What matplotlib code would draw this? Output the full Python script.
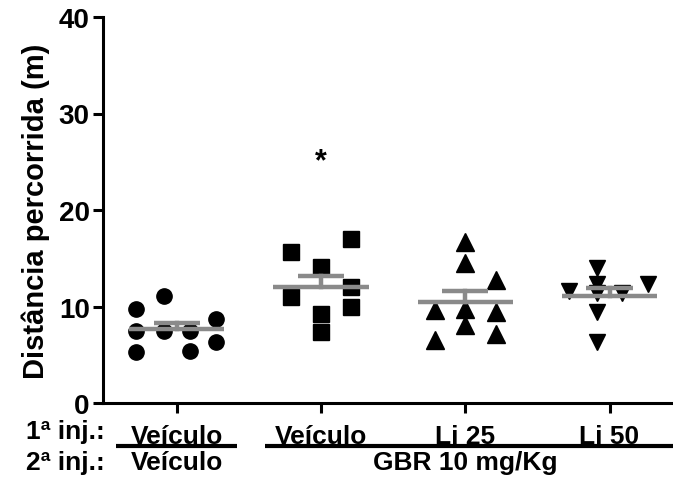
import numpy as np
import matplotlib
matplotlib.use('Agg')
import matplotlib.pyplot as plt
from matplotlib.transforms import blended_transform_factory

plt.rcParams['font.family'] = ['Liberation Sans', 'DejaVu Sans']
plt.rcParams['font.weight'] = 'bold'

# distance travelled (m) per animal
veh_veh = [9.7, 11.1, 7.5, 7.5, 7.5, 8.7, 6.3, 5.3, 5.4]
veh_gbr = [15.6, 17.0, 14.1, 12.0, 11.0, 9.95, 9.2, 7.4]
li25_gbr = [16.7, 14.5, 12.7, 9.6, 9.7, 9.4, 8.1, 7.2, 6.5]
li50_gbr = [13.95, 11.65, 12.35, 11.35, 11.35, 12.35, 9.45, 6.35]

# horizontal spread of points inside each group
offsets_1 = [-0.28, -0.09, -0.28, -0.09, 0.09, 0.27, 0.27, -0.28, 0.09]
offsets_2 = [-0.21, 0.21, 0.0, 0.21, -0.21, 0.21, 0.0, 0.0]
offsets_3 = [0.0, 0.0, 0.21, -0.21, 0.0, 0.21, 0.0, 0.21, -0.21]
offsets_4 = [-0.09, -0.28, -0.09, -0.09, 0.09, 0.27, -0.09, -0.09]

groups = [veh_veh, veh_gbr, li25_gbr, li50_gbr]
offsets = [offsets_1, offsets_2, offsets_3, offsets_4]
markers = ['o', 's', '^', 'v']
sizes = [11, 12, 13, 12]

row1 = ['Veículo', 'Veículo', 'Li 25', 'Li 50']

fig = plt.figure(figsize=(6.73, 4.81), dpi=100)
ax = fig.add_axes([103 / 673, 1 - 404 / 481, 1 - 103 / 673, (404 - 18) / 481])

gray = '#8a8a8a'
for i, (vals, offs) in enumerate(zip(groups, offsets)):
    vals = np.array(vals)
    xs = i + np.array(offs)
    ax.plot(xs, vals, linestyle='none', marker=markers[i], ms=sizes[i],
            color='black', zorder=2, clip_on=False)
    m = vals.mean()
    sem = vals.std(ddof=1) / np.sqrt(len(vals))
    ax.plot([i - 0.33, i + 0.33], [m, m], color=gray, lw=3.2, zorder=3,
            solid_capstyle='butt')
    ax.plot([i, i], [m, m + sem], color=gray, lw=3.2, zorder=3)
    ax.plot([i - 0.16, i + 0.16], [m + sem, m + sem], color=gray, lw=3.2,
            zorder=3, solid_capstyle='butt')

ax.text(1, 25, '*', ha='center', va='center', fontsize=22, fontweight='bold')

ax.set_xlim(-0.51, 3.44)
ax.set_ylim(0, 40)
ax.set_yticks([0, 10, 20, 30, 40])
ax.set_xticks([0, 1, 2, 3])
ax.set_xticklabels([])
ax.spines['top'].set_visible(False)
ax.spines['right'].set_visible(False)
ax.spines['left'].set_linewidth(2.2)
ax.spines['bottom'].set_linewidth(2.2)
ax.tick_params(axis='both', length=7.5, width=2.2, labelsize=20, pad=2)
ax.set_ylabel('Distância percorrida (m)', fontsize=21, fontweight='bold',
              labelpad=6)

# group labels below the axis (x in data units, y in inches from figure bottom)
tr = blended_transform_factory(ax.transData, fig.dpi_scale_trans)
fig.text(105 / 673, 42 / 481, '1ª inj.:', ha='right', va='baseline',
         fontsize=19, fontweight='bold')
fig.text(105 / 673, 11 / 481, '2ª inj.:', ha='right', va='baseline',
         fontsize=19, fontweight='bold')
for i, lab in enumerate(row1):
    ax.text(i, 0.37, lab, transform=tr, ha='center', va='baseline',
            fontsize=19, fontweight='bold')
ax.text(0, 0.11, 'Veículo', transform=tr, ha='center', va='baseline',
        fontsize=19, fontweight='bold')
ax.text(2, 0.11, 'GBR 10 mg/Kg', transform=tr, ha='center', va='baseline',
        fontsize=19, fontweight='bold')
ax.plot([-0.42, 0.42], [0.34, 0.34], transform=tr, color='black', lw=3,
        clip_on=False, solid_capstyle='butt')
ax.plot([0.61, 3.44], [0.34, 0.34], transform=tr, color='black', lw=3,
        clip_on=False, solid_capstyle='butt')

fig.savefig('out.png', dpi=100)
